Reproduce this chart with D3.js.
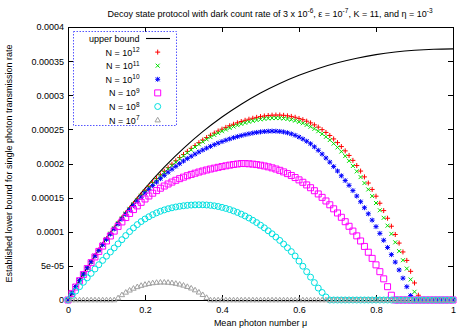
<!DOCTYPE html>
<meta charset="utf-8">
<style>

body {
  margin: 0;
  background: #fff;
}

svg {
  display: block;
  font-family: "Liberation Sans", Arial, Helvetica, sans-serif;
}

.axis text {
  font-size: 9px;
  fill: #000;
}

.axis path {
  display: none;
}

.axis line {
  stroke: #000;
  shape-rendering: crispEdges;
}

.frame {
  fill: none;
  stroke: #000;
  shape-rendering: crispEdges;
}

.label {
  font-size: 9px;
  fill: #000;
}

</style>
<body>
<script src="https://cdn.jsdelivr.net/npm/d3@7/dist/d3.min.js"></script>
<script>

// values in units of 1e-6, one per step of 0.01 in mu (0 .. 1)
var n12 = [0, 9.9, 19.5, 29, 38.2, 47.3, 56.2, 64.9, 73.3, 81.6, 89.8,
  97.7, 105.5, 113.1, 120.4, 127.5, 134.4, 141.2, 147.7, 154.1, 160.2,
  166.2, 172.1, 177.7, 183.3, 188.6, 193.8, 198.9, 203.9, 208.7, 213.2,
  217.8, 222.2, 226.4, 230.5, 234.4, 238.0, 241.4, 244.6, 247.6, 250.3,
  252.9, 255.3, 257.5, 259.6, 261.5, 263.3, 264.9, 266.3, 267.6, 268.7,
  269.6, 270.3, 270.8, 271.0, 271.0, 270.6, 269.9, 269.0, 267.7, 266.0,
  264.2, 262.0, 259.5, 256.6, 253.3, 249.6, 245.5, 241.0, 236.0, 230.6,
  224.8, 218.5, 211.8, 204.6, 197.0, 188.9, 180.4, 171.4, 162.0, 152.1,
  141.8, 131.0, 119.8, 108.1, 96.0, 83.4, 70.4, 58, 42, 25,
  7, 0, 0, 0, 0, 0, 0, 0, 0, 0];

var n11 = [0, 9.9, 19.5, 28.9, 38.1, 47.2, 56, 64.7, 73.1, 81.4, 89.5,
  97.3, 105, 112.5, 119.7, 126.7, 133.5, 140.2, 146.6, 152.9, 159.2,
  165.1, 170.9, 176.4, 181.9, 187.1, 192.2, 197.2, 202.1, 206.8, 211.2,
  215.7, 220, 224.1, 228.1, 231.9, 235.4, 238.7, 241.8, 244.7, 247.3,
  249.8, 252.1, 254.2, 256.2, 258, 259.7, 261.2, 262.5, 263.7, 264.7,
  265.5, 266.1, 266.5, 266.6, 266.5, 266, 265.2, 264.2, 262.8, 261,
  259, 256.6, 253.9, 250.8, 247.3, 243.4, 239.1, 234.4, 229.2, 223.6,
  217.5, 210.9, 203.9, 196.4, 188.5, 180.1, 171.3, 162, 152.3, 142.1,
  131.5, 120.4, 108.9, 96.9, 84.5, 71.6, 58.3, 46, 30, 12,
  0, 0, 0, 0, 0, 0, 0, 0, 0, 0];

var n10 = [0, 9.9, 19.5, 28.9, 38.0, 47.1, 55.8, 64.4, 72.7, 80.9, 88.9,
  96.6, 104.1, 111.4, 118.5, 125.5, 132.2, 138.6, 144.8, 150.8, 156.6,
  162.2, 167.6, 172.8, 177.8, 182.6, 187.2, 191.6, 195.8, 199.8, 203.6,
  207.2, 210.6, 213.8, 216.9, 219.8, 222.5, 225.1, 227.6, 229.9, 232.1,
  234.1, 236, 237.8, 239.4, 240.9, 242.3, 243.5, 244.6, 245.5, 246.3,
  246.9, 247.3, 247.5, 247.4, 247, 246.2, 245, 243.4, 241.3, 238.8,
  235.9, 232.6, 228.9, 224.4, 219.3, 213.8, 208, 202, 195.5, 189,
  182, 175, 168, 160.3, 152.3, 144, 135.2, 126.3, 117, 107.5,
  97.6, 87.5, 77, 66.5, 55.5, 44, 32, 19.5, 6.5, 0,
  0, 0, 0, 0, 0, 0, 0, 0, 0, 0];

var n9 = [0, 9.6, 19.0, 28.3, 37.3, 46.1, 54.7, 63.1, 71.2, 79.0, 86.5,
  93.8, 100.9, 107.8, 114.4, 120.8, 126.8, 132.5, 137.9, 143.1, 148,
  152.4, 156.5, 160.3, 163.8, 167, 170, 172.8, 175.4, 177.8, 180,
  182.1, 184, 185.8, 187.5, 189, 190.5, 191.9, 193.2, 194.4, 195.5,
  196.6, 197.6, 198.5, 199.3, 200, 199.9, 199.6, 199.1, 198.4, 197.5,
  196.4, 195.1, 193.6, 191.9, 190, 187.7, 185.2, 182.5, 179.4, 176,
  172.5, 168.6, 164.5, 160.1, 155.4, 150.4, 145.1, 139.5, 133.6, 127.5,
  121.2, 114.7, 108, 101, 94, 86.5, 78.5, 70, 61, 51.5,
  41.5, 31, 19.5, 7, 0, 0, 0, 0, 0, 0,
  0, 0, 0, 0, 0, 0, 0, 0, 0, 0];

var n8 = [0, 6.5, 13, 19.5, 26, 32.5, 39, 45.4, 51.7, 58, 64.2,
  70.3, 76.3, 82.2, 88.4, 94.4, 100.2, 105.6, 110.5, 114.9, 118.7,
  122, 125, 127.7, 130, 132, 133.7, 135.1, 136.3, 137.3, 138.1,
  138.7, 139.1, 139.4, 139.5, 139.5, 139.2, 138.7, 138, 137, 135.7,
  134.2, 132.5, 130.5, 128.3, 125.8, 123.1, 120.1, 116.8, 113.4, 109.6,
  105.7, 101.4, 97, 92.2, 87.3, 82, 76.6, 70.9, 64.5, 57,
  49.5, 41.5, 33.5, 25.5, 17.5, 11, 4.5, 0, 0, 0,
  0, 0, 0, 0, 0, 0, 0, 0, 0, 0,
  0, 0, 0, 0, 0, 0, 0, 0, 0, 0,
  0, 0, 0, 0, 0, 0, 0, 0, 0, 0];

var n7 = [0, 0, 0, 0, 0, 0, 0, 0, 0, 0, 0,
  0, 0, 3, 7.5, 11.2, 14.3, 17, 19.3, 21.2, 22.8,
  24, 25, 25.6, 26, 26, 25.7, 25.1, 24.2, 23, 21.5,
  19.6, 17.3, 14.6, 11.4, 7.7, 3.5, 0, 0, 0, 0,
  0, 0, 0, 0, 0, 0, 0, 0, 0, 0,
  0, 0, 0, 0, 0, 0, 0, 0, 0, 0,
  0, 0, 0, 0, 0, 0, 0, 0, 0, 0,
  0, 0, 0, 0, 0, 0, 0, 0, 0, 0,
  0, 0, 0, 0, 0, 0, 0, 0, 0, 0,
  0, 0, 0, 0, 0, 0, 0, 0, 0, 0];

// upper bound curve, sampled every 0.05
var boundMu = [0, 0.05, 0.1, 0.15, 0.2, 0.25, 0.3, 0.35, 0.4, 0.45, 0.5,
  0.55, 0.6, 0.65, 0.7, 0.75, 0.8, 0.85, 0.9, 0.95, 1];
var boundVal = [0, 47.6, 90.5, 129.1, 163.7, 194.7, 222.2, 246.6, 268.1, 286.9, 303.3,
  317.3, 329.3, 339.3, 347.6, 354.3, 359.5, 363.3, 365.9, 367.4, 367.9];

var xTicks = [0, 0.2, 0.4, 0.6, 0.8, 1];
var xTickLabels = ["0", "0.2", "0.4", "0.6", "0.8", "1"];
var yTicks = [0, 0.00005, 0.0001, 0.00015, 0.0002, 0.00025, 0.0003, 0.00035, 0.0004];
var yTickLabels = ["0", "5e-05", "0.0001", "0.00015", "0.0002", "0.00025", "0.0003", "0.00035", "0.0004"];

var exps = ["12", "11", "10", "9", "8", "7"];
var colors = ["#ff0000", "#00e000", "#0000ff", "#ff00ff", "#00e0e0", "#a0a0a0"];
var shapes = ["plus", "cross", "star", "square", "circle", "triangle"];

var unit = 1e-6;
var muStep = 0.01;

var margin = {top: 27, right: 16, bottom: 28, left: 68},
    width = 469 - margin.left - margin.right,
    height = 328 - margin.top - margin.bottom;

var x = d3.scaleLinear().domain([0, 1]).range([0, width]);
var y = d3.scaleLinear().domain([0, 0.0004]).range([height, 0]);

var svg = d3.select("body").append("svg")
    .attr("width", 469)
    .attr("height", 328);

var g = svg.append("g")
    .attr("transform", "translate(" + margin.left + "," + margin.top + ")");

// axes, gnuplot style: ticks pointing inward on all four sides
g.append("g")
    .attr("class", "axis")
    .attr("transform", "translate(0," + height + ")")
    .call(d3.axisBottom(x).tickValues(xTicks)
        .tickFormat(function(d, i) { return xTickLabels[i]; })
        .tickSizeInner(-5).tickSizeOuter(0).tickPadding(7));

g.append("g")
    .attr("class", "axis")
    .call(d3.axisTop(x).tickValues(xTicks).tickFormat("")
        .tickSizeInner(-5).tickSizeOuter(0));

g.append("g")
    .attr("class", "axis")
    .call(d3.axisLeft(y).tickValues(yTicks)
        .tickFormat(function(d, i) { return yTickLabels[i]; })
        .tickSizeInner(-5).tickSizeOuter(0).tickPadding(4));

g.append("g")
    .attr("class", "axis")
    .attr("transform", "translate(" + width + ",0)")
    .call(d3.axisRight(y).tickValues(yTicks).tickFormat("")
        .tickSizeInner(-5).tickSizeOuter(0));

g.append("rect")
    .attr("class", "frame")
    .attr("width", width)
    .attr("height", height);

// upper bound line
var boundData = boundMu.map(function(m, i) { return {mu: m, v: boundVal[i] * unit}; });

var line = d3.line()
    .x(function(d) { return x(d.mu); })
    .y(function(d) { return y(d.v); })
    .curve(d3.curveCatmullRom);

g.append("path")
    .datum(boundData)
    .attr("fill", "none")
    .attr("stroke", "#000")
    .attr("stroke-width", 1.1)
    .attr("d", line);

function markerPath(shape) {
  switch (shape) {
    case "plus": return "M-2.5,0H2.5M0,-2.5V2.5";
    case "cross": return "M-2,-2L2,2M-2,2L2,-2";
    case "star": return "M-2.5,0H2.5M0,-2.5V2.5M-2,-2L2,2M-2,2L2,-2";
    case "square": return "M-3,-3H3V3H-3Z";
    case "circle": return d3.symbol(d3.symbolCircle, 28)();
    case "triangle": return "M0,-2.8L2.7,1.8H-2.7Z";
  }
}

var seriesValues = [n12, n11, n10, n9, n8, n7];

seriesValues.forEach(function(vals, s) {
  var pts = vals.map(function(v, i) { return {mu: i * muStep, v: v * unit}; });
  g.append("g")
      .attr("fill", "none")
      .attr("stroke", colors[s])
      .attr("stroke-width", 1)
    .selectAll("path")
      .data(pts)
    .enter().append("path")
      .attr("transform", function(d) { return "translate(" + x(d.mu) + "," + y(d.v) + ")"; })
      .attr("d", markerPath(shapes[s]));
});

// legend
var key = svg.append("g");

key.append("rect")
    .attr("x", 73.5)
    .attr("y", 31.5)
    .attr("width", 103)
    .attr("height", 94)
    .attr("fill", "none")
    .attr("stroke", "#5555ff")
    .attr("stroke-dasharray", "1.5,1.5");

var rowY = function(i) { return 38.5 + i * 13.6; };

key.append("text")
    .attr("class", "label")
    .attr("x", 139.5)
    .attr("y", rowY(0) + 3.2)
    .attr("text-anchor", "end")
    .text("upper bound");

key.append("line")
    .attr("x1", 146).attr("x2", 170)
    .attr("y1", rowY(0)).attr("y2", rowY(0))
    .attr("stroke", "#000")
    .attr("stroke-width", 1.1);

exps.forEach(function(e, s) {
  var t = key.append("text")
      .attr("class", "label")
      .attr("x", 139.5)
      .attr("y", rowY(s + 1) + 3.5)
      .attr("text-anchor", "end");
  t.append("tspan").text("N = 10");
  t.append("tspan").attr("dy", -3.5).style("font-size", "6.5px").text(e);

  key.append("path")
      .attr("transform", "translate(157.7," + rowY(s + 1) + ")")
      .attr("fill", "none")
      .attr("stroke", colors[s])
      .attr("d", markerPath(shapes[s]));
});

// title with superscripts
var titleParts = [
  ["Decoy state protocol with dark count rate of 3 x 10", false],
  ["-6", true],
  [", \u03b5 = 10", false],
  ["-7", true],
  [", K = 11, and \u03b7 = 10", false],
  ["-3", true]
];

var title = svg.append("text")
    .attr("class", "label")
    .attr("x", 270)
    .attr("y", 16.5)
    .attr("text-anchor", "middle");

var shifted = false;
titleParts.forEach(function(p) {
  var ts = title.append("tspan").text(p[0]);
  if (p[1]) {
    ts.attr("dy", -3.5).style("font-size", "6.5px");
    shifted = true;
  } else if (shifted) {
    ts.attr("dy", 3.5);
    shifted = false;
  }
});

svg.append("text")
    .attr("class", "label")
    .attr("x", margin.left + width / 2)
    .attr("y", 326)
    .attr("text-anchor", "middle")
    .text("Mean photon number \u03bc");

svg.append("text")
    .attr("class", "label")
    .attr("transform", "translate(12," + (margin.top + height / 2) + ") rotate(-90)")
    .attr("text-anchor", "middle")
    .text("Established lower bound for single photon transmission rate");

</script>
